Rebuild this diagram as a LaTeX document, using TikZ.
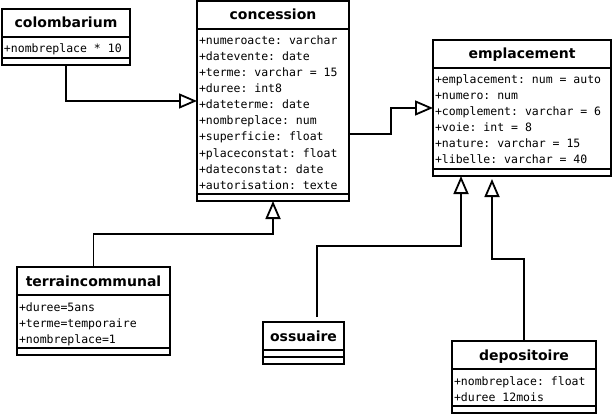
\documentclass[tikz,border=0pt]{standalone}
\usepackage{fontspec}
\setsansfont{DejaVu Sans}
\setmonofont{DejaVu Sans Mono}
\usetikzlibrary{shapes.multipart,arrows.meta}

\newcommand{\classname}[1]{\rule[-6.5pt]{0pt}{23pt}{\sffamily\bfseries\fontsize{14}{16}\selectfont #1}}
\newcommand{\attr}[1]{\rule[-2.5pt]{0pt}{16pt}#1}
\newcommand{\noattr}{\rule{0pt}{2pt}}

\begin{document}
\begin{tikzpicture}[x=1pt,y=1pt,
classbox/.style={rectangle split, rectangle split parts=3, draw, line width=1.8pt, anchor=north west, outer sep=0pt, inner xsep=2pt, inner ysep=1.6pt, align=left, rectangle split part align={center,left,left}, font=\ttfamily\fontsize{11.5}{16}\selectfont},
heritage/.style={line width=1.8pt, -{Triangle[open,length=18pt,width=15pt]}}
]
    \path [fill=white, use as bounding box] (0,0) rectangle (612,-414);

    \node [classbox, minimum width=128pt] (colombarium) at (2,-9) {\classname{colombarium}
        \nodepart{two} \attr{+nombreplace * 10}
        \nodepart{three} \noattr};
    \node [classbox, minimum width=152pt] (concession) at (197,-1) {\classname{concession}
        \nodepart{two} \attr{+numeroacte: varchar}\\ \attr{+datevente: date}\\ \attr{+terme: varchar = 15}\\
        \attr{+duree: int8}\\ \attr{+dateterme: date}\\ \attr{+nombreplace: num}\\ \attr{+superficie: float}\\
        \attr{+placeconstat: float}\\ \attr{+dateconstat: date}\\ \attr{+autorisation: texte}
        \nodepart{three} \noattr};
    \node [classbox, minimum width=178pt] (emplacement) at (433,-40) {\classname{emplacement}
        \nodepart{two} \attr{+emplacement: num = auto}\\ \attr{+numero: num}\\ \attr{+complement: varchar = 6}\\
        \attr{+voie: int = 8}\\ \attr{+nature: varchar = 15}\\ \attr{+libelle: varchar = 40}
        \nodepart{three} \noattr};
    \node [classbox, minimum width=153pt] (terraincommunal) at (17,-267) {\classname{terraincommunal}
        \nodepart{two} \attr{+duree=5ans}\\ \attr{+terme=temporaire}\\ \attr{+nombreplace=1}
        \nodepart{three} \noattr};
    \node [classbox, minimum width=81pt] (ossuaire) at (263,-322) {\classname{ossuaire}
        \nodepart{two} \noattr
        \nodepart{three} \noattr};
    \node [classbox, minimum width=144pt] (depositoire) at (452,-341) {\classname{depositoire}
        \nodepart{two} \attr{+nombreplace: float}\\ \attr{+duree 12mois}
        \nodepart{three} \noattr};

    \draw [heritage] (colombarium.south) |- (concession.west);
    \draw [heritage] ([yshift=-33pt]concession.east) -- ++(42,0) |- (emplacement.west);
    \draw [heritage] (terraincommunal.north) -- ++(0,33) -| (concession.south);
    \draw [heritage] ([xshift=13.5pt,yshift=5pt]ossuaire.north) -- ++(0,71) -| ([xshift=-61pt]emplacement.south);
    \draw [heritage] (depositoire.north) -- ++(0,82) -| ([xshift=-30pt,yshift=-3pt]emplacement.south);
\end{tikzpicture}
\end{document}
